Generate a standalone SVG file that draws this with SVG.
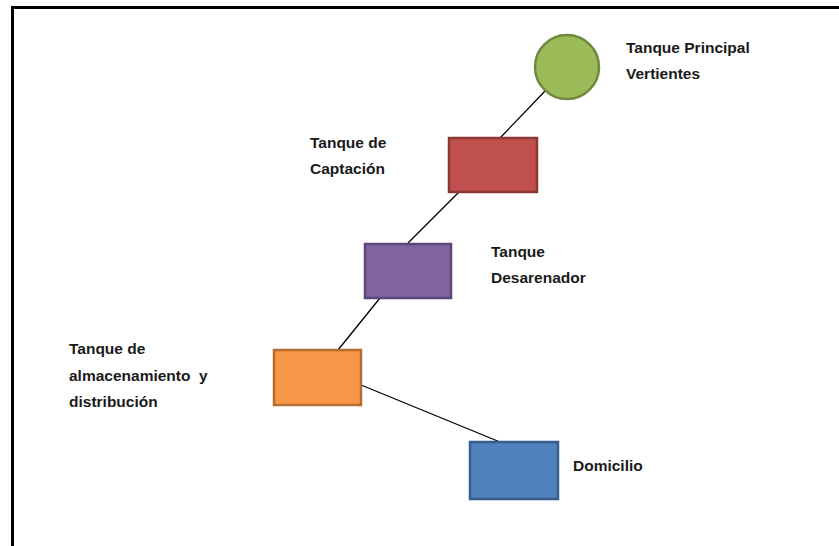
<svg xmlns="http://www.w3.org/2000/svg" width="839" height="546" viewBox="0 0 839 546">
<style>
.lbl{font-family:"Liberation Sans",Arial,sans-serif;font-weight:bold;font-size:15.5px;fill:#1a1a1a}
.conn line{stroke:#000;stroke-width:1.3}
.shape{stroke-width:2.5}
</style>
<rect width="839" height="546" fill="#fff"/>
<path d="M12.5,546 V7.5 H839" fill="none" stroke="#000" stroke-width="3"/>
<g id="connectors" class="conn">
<line x1="546" y1="90" x2="500" y2="138"/>
<line x1="459" y1="192" x2="408" y2="243"/>
<line x1="380" y1="298" x2="338" y2="350"/>
<line x1="361" y1="385" x2="500" y2="442"/>
</g>
<g id="tanque-principal">
<circle class="shape" cx="567" cy="67" r="32" fill="#9BBB59" stroke="#71893F"/>
<text class="lbl" x="626" y="53">Tanque Principal</text>
<text class="lbl" x="626" y="79">Vertientes</text>
</g>
<g id="tanque-captacion">
<rect class="shape" x="449" y="138" width="88" height="54" fill="#C0504D" stroke="#8C3836"/>
<text class="lbl" x="310" y="148">Tanque de</text>
<text class="lbl" x="310" y="174">Captación</text>
</g>
<g id="tanque-desarenador">
<rect class="shape" x="365" y="244" width="86" height="54" fill="#8064A2" stroke="#5C4776"/>
<text class="lbl" x="491" y="257">Tanque</text>
<text class="lbl" x="491" y="283">Desarenador</text>
</g>
<g id="tanque-almacenamiento">
<rect class="shape" x="274" y="350" width="87" height="55" fill="#F79646" stroke="#B66D31"/>
<text class="lbl" x="69" y="354">Tanque de</text>
<text class="lbl" x="69" y="381" xml:space="preserve">almacenamiento  y</text>
<text class="lbl" x="69" y="407">distribución</text>
</g>
<g id="domicilio">
<rect class="shape" x="470" y="442" width="88" height="57" fill="#4F81BD" stroke="#385D8A"/>
<text class="lbl" x="573" y="471">Domicilio</text>
</g>
</svg>
